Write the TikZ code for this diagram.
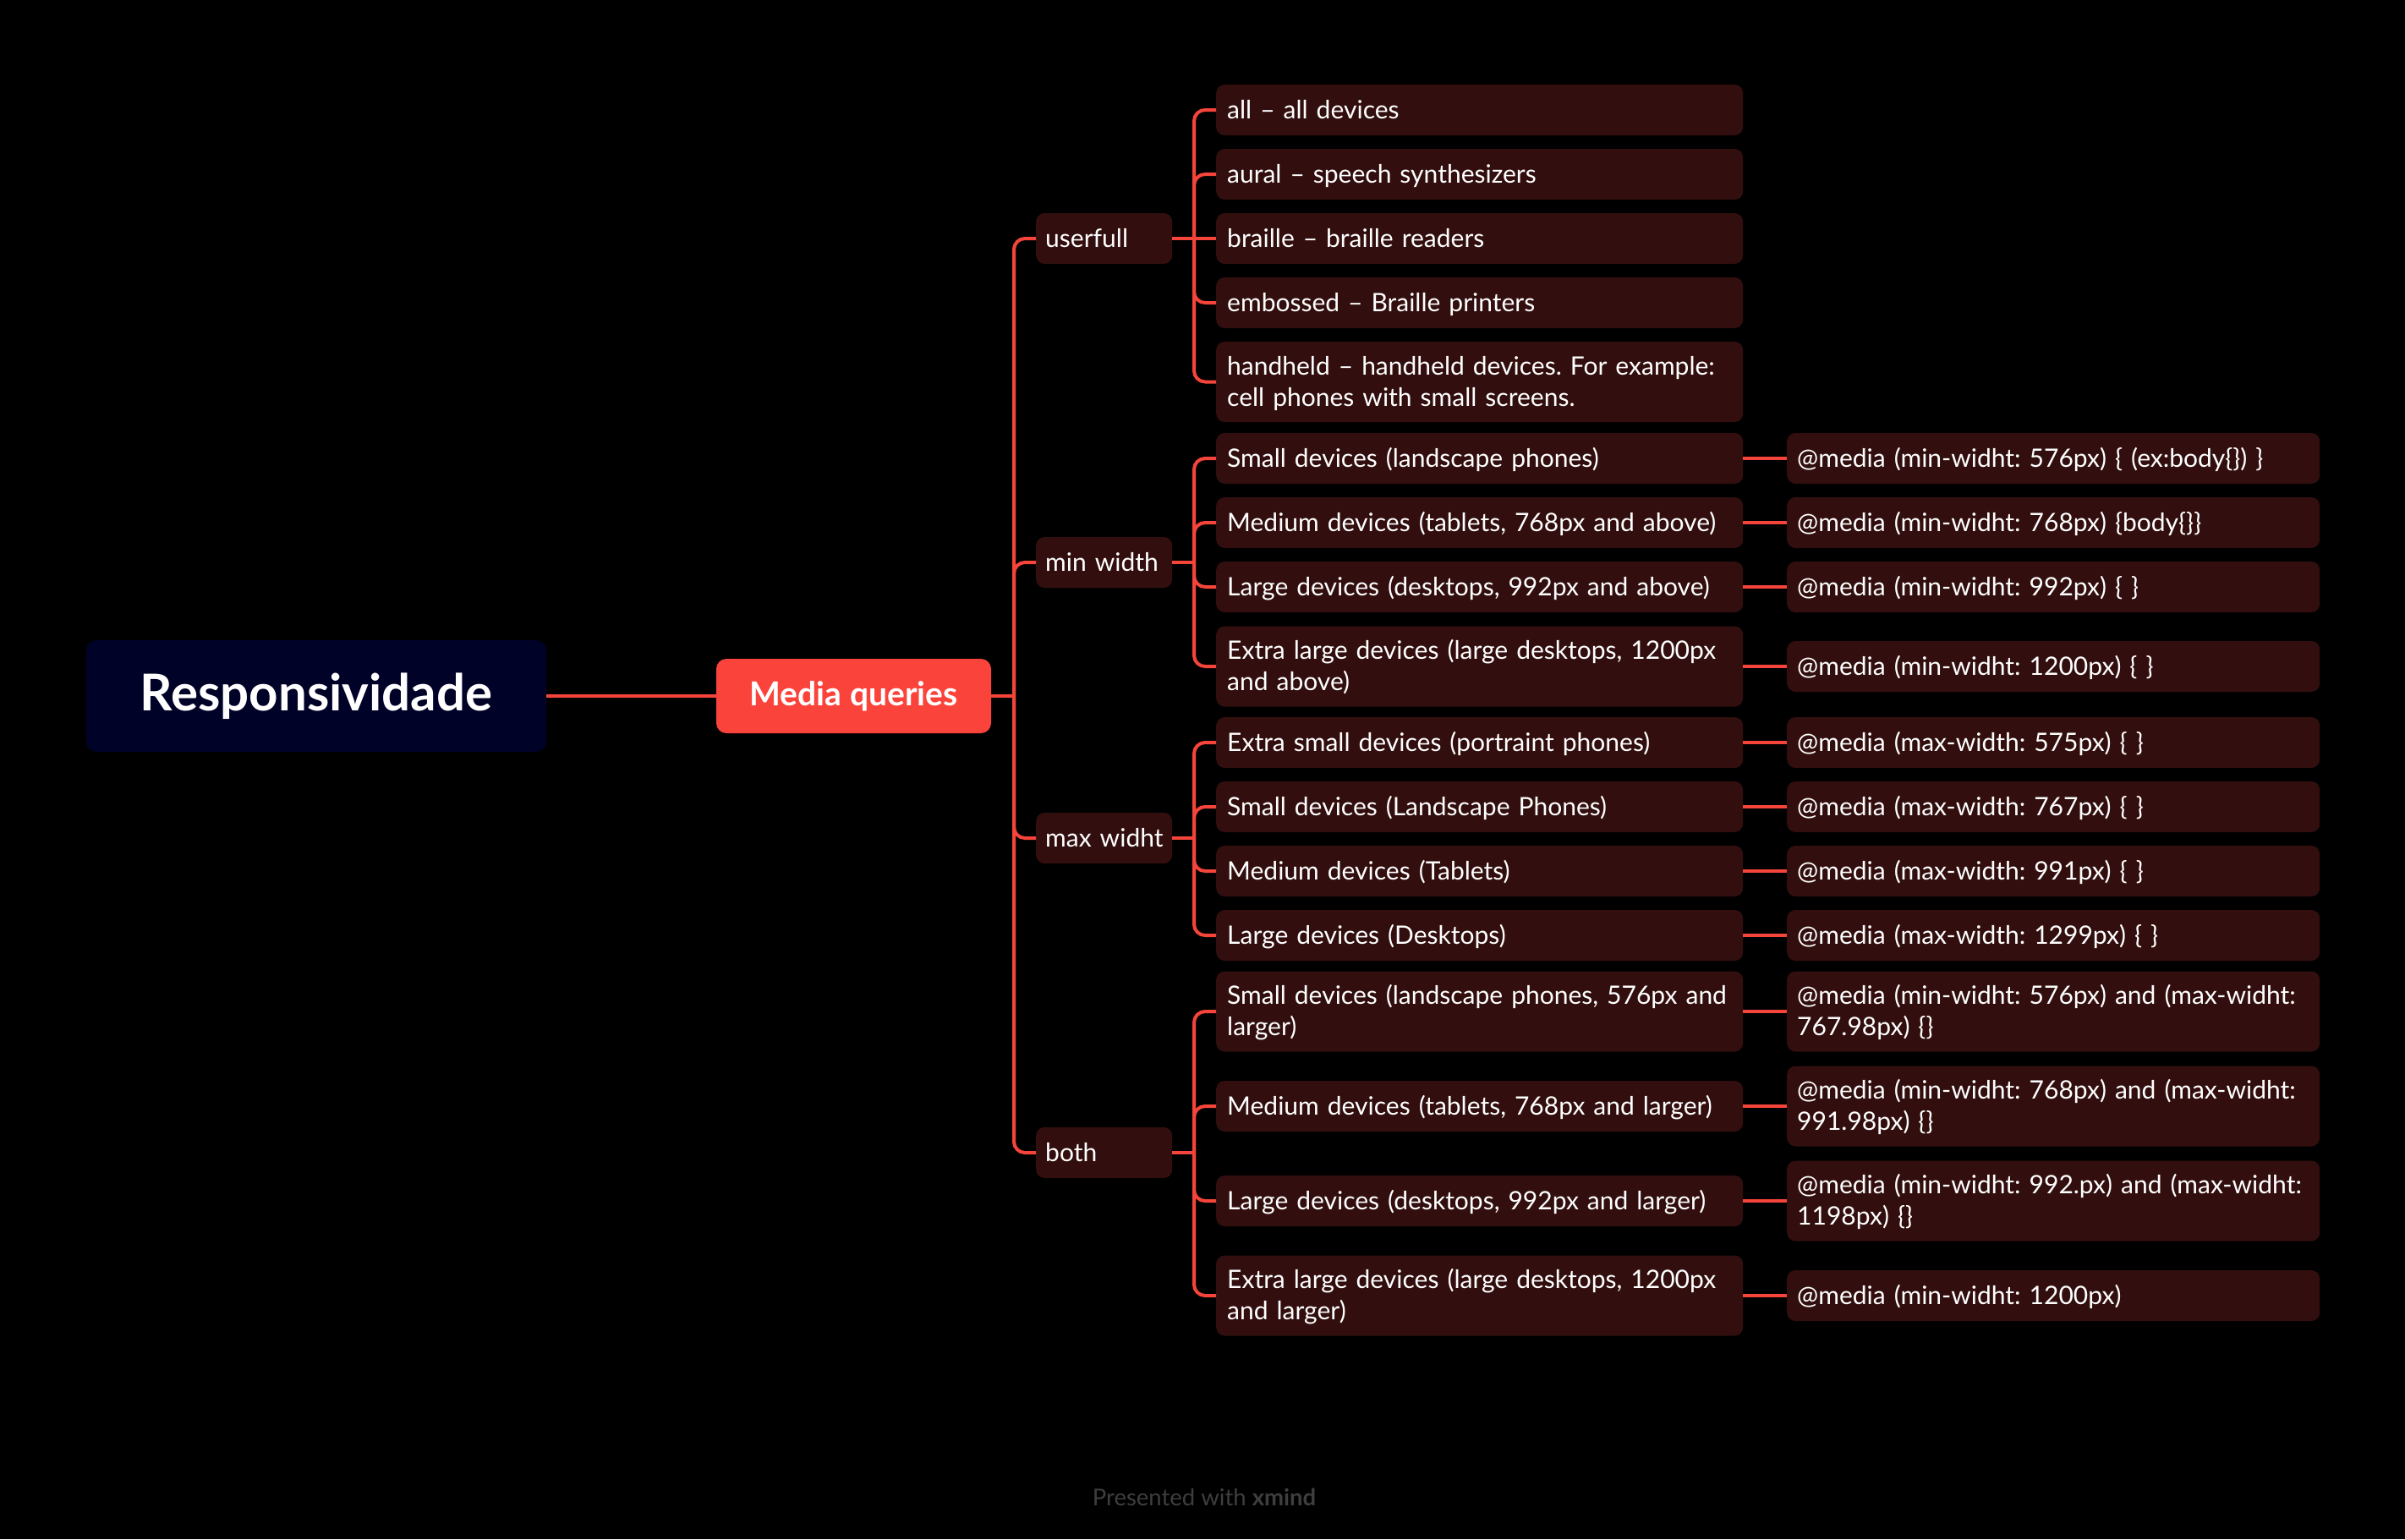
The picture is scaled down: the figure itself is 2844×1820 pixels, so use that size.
\documentclass[tikz,border=0pt]{standalone}
\usepackage{fontspec}
\newfontfamily\lato{Lato}
\frenchspacing
\definecolor{bgblack}{RGB}{0,0,0}
\definecolor{rootfill}{RGB}{1,2,40}
\definecolor{mqred}{RGB}{250,67,58}
\definecolor{leaffill}{RGB}{50,15,14}
\definecolor{linered}{RGB}{245,68,58}
\definecolor{footgray}{RGB}{62,62,62}
\newcommand\myleaffont{\lato\frenchspacing\fontsize{30}{37}\selectfont}
\newcommand\lst{\rule[-8.2pt]{0pt}{37pt}}
\tikzset{
  conn/.style={draw=linered, line width=4pt},
  basebox/.style={fill=leaffill, rounded corners=10pt, text=white, font=\myleaffont,
    inner ysep=0pt, align=left, minimum height=60pt, anchor=west},
  lvlone/.style={basebox, inner xsep=11pt, text width=139pt},
  leafbox/.style={basebox, inner xsep=13pt, text width=597pt},
  rbox/.style={basebox, inner xsep=12pt, text width=606pt},
  tall/.style={minimum height=95pt},
}
\begin{document}
\begin{tikzpicture}[x=1pt,y=-1pt]
\fill[bgblack] (0,0) rectangle (2844,1820);
\useasboundingbox (0,0) rectangle (2844,1820);

% root and central topic
\node[fill=rootfill, rounded corners=12pt, text=white, font=\lato\bfseries\fontsize{60}{68}\selectfont,
  minimum width=544pt, minimum height=132pt, inner sep=0pt] (root) at (374,823) {Responsividade};
\node[fill=mqred, rounded corners=12pt, text=white, font=\lato\bfseries\fontsize{39}{46}\selectfont,
  minimum width=325pt, minimum height=88pt, inner sep=0pt] (mq) at (1009.5,823) {Media queries};

% level one
\node[lvlone] (u)  at (1225,282)  {\lst\mbox{userfull}};
\node[lvlone] (mw) at (1225,665)  {\lst\mbox{min width}};
\node[lvlone] (mx) at (1225,991)  {\lst\mbox{max widht}};
\node[lvlone] (bo) at (1225,1363) {\lst\mbox{both}};

% userfull children
\node[leafbox] (a1) at (1438,130) {\lst all – all devices};
\node[leafbox] (a2) at (1438,206) {\lst aural – speech synthesizers};
\node[leafbox] (a3) at (1438,282) {\lst braille – braille readers};
\node[leafbox] (a4) at (1438,358) {\lst embossed – Braille printers};
\node[leafbox,tall] (a5) at (1438,451.5) {\lst\mbox{handheld – handheld devices. For example:}\\\lst cell phones with small screens.};

% min width children
\node[leafbox] (b1) at (1438,542) {\lst Small devices (landscape phones)};
\node[leafbox] (b2) at (1438,618) {\lst Medium devices (tablets, 768px and above)};
\node[leafbox] (b3) at (1438,694) {\lst Large devices (desktops, 992px and above)};
\node[leafbox,tall] (b4) at (1438,788) {\lst\mbox{Extra large devices (large desktops, 1200px}\\\lst and above)};

\node[rbox] (rb1) at (2113,542) {\lst @media (min-widht: 576px) \{ (ex:body\{\}) \}};
\node[rbox] (rb2) at (2113,618) {\lst @media (min-widht: 768px) \{body\{\}\}};
\node[rbox] (rb3) at (2113,694) {\lst @media (min-widht: 992px) \{ \}};
\node[rbox] (rb4) at (2113,788) {\lst @media (min-widht: 1200px) \{ \}};

% max widht children
\node[leafbox] (c1) at (1438,878)  {\lst Extra small devices (portraint phones)};
\node[leafbox] (c2) at (1438,954)  {\lst Small devices (Landscape Phones)};
\node[leafbox] (c3) at (1438,1030) {\lst Medium devices (Tablets)};
\node[leafbox] (c4) at (1438,1106) {\lst Large devices (Desktops)};

\node[rbox] (rc1) at (2113,878)  {\lst @media (max-width: 575px) \{ \}};
\node[rbox] (rc2) at (2113,954)  {\lst @media (max-width: 767px) \{ \}};
\node[rbox] (rc3) at (2113,1030) {\lst @media (max-width: 991px) \{ \}};
\node[rbox] (rc4) at (2113,1106) {\lst @media (max-width: 1299px) \{ \}};

% both children
\node[leafbox,tall] (d1) at (1438,1196) {\lst\mbox{Small devices (landscape phones, 576px and}\\\lst larger)};
\node[leafbox] (d2) at (1438,1308) {\lst Medium devices (tablets, 768px and larger)};
\node[leafbox] (d3) at (1438,1420) {\lst Large devices (desktops, 992px and larger)};
\node[leafbox,tall] (d4) at (1438,1532) {\lst\mbox{Extra large devices (large desktops, 1200px}\\\lst and larger)};

\node[rbox,tall] (rd1) at (2113,1196) {\lst\mbox{@media (min-widht: 576px) and (max-widht:}\\\lst 767.98px) \{\}};
\node[rbox,tall] (rd2) at (2113,1308) {\lst\mbox{@media (min-widht: 768px) and (max-widht:}\\\lst 991.98px) \{\}};
\node[rbox,tall] (rd3) at (2113,1420) {\lst\mbox{@media (min-widht: 992.px) and (max-widht:}\\\lst 1198px) \{\}};
\node[rbox] (rd4) at (2113,1532) {\lst @media (min-widht: 1200px)};

% junctions
\coordinate (mj)  at (1199,823);
\coordinate (uj)  at (1412,282);
\coordinate (mwj) at (1412,665);
\coordinate (mxj) at (1412,991);
\coordinate (boj) at (1412,1363);

% connectors
\draw[conn] (root.east) -- (mq.west);
\draw[conn] (mq.east) -- (mj);
\foreach \n in {u,mw,mx,bo} \draw[conn, rounded corners=13pt] (mj) |- (\n.west);

\draw[conn] (u.east) -- (uj);
\foreach \n in {a1,a2,a4,a5} \draw[conn, rounded corners=13pt] (uj) |- (\n.west);
\draw[conn] (uj) -- (a3.west);

\draw[conn] (mw.east) -- (mwj);
\foreach \n in {b1,b2,b3,b4} \draw[conn, rounded corners=13pt] (mwj) |- (\n.west);

\draw[conn] (mx.east) -- (mxj);
\foreach \n in {c1,c2,c3,c4} \draw[conn, rounded corners=13pt] (mxj) |- (\n.west);

\draw[conn] (bo.east) -- (boj);
\foreach \n in {d1,d2,d3,d4} \draw[conn, rounded corners=13pt] (boj) |- (\n.west);

\foreach \n in {b1,b2,b3,b4,c1,c2,c3,c4,d1,d2,d3,d4} \draw[conn] (\n.east) -- (r\n.west);

% footer
\node[anchor=base, text=footgray, font=\lato\fontsize{27.5}{32}\selectfont, inner sep=0pt] (foot) at (1424,1780)
  {Presented with \textbf{xmind}};
\end{tikzpicture}
\end{document}
